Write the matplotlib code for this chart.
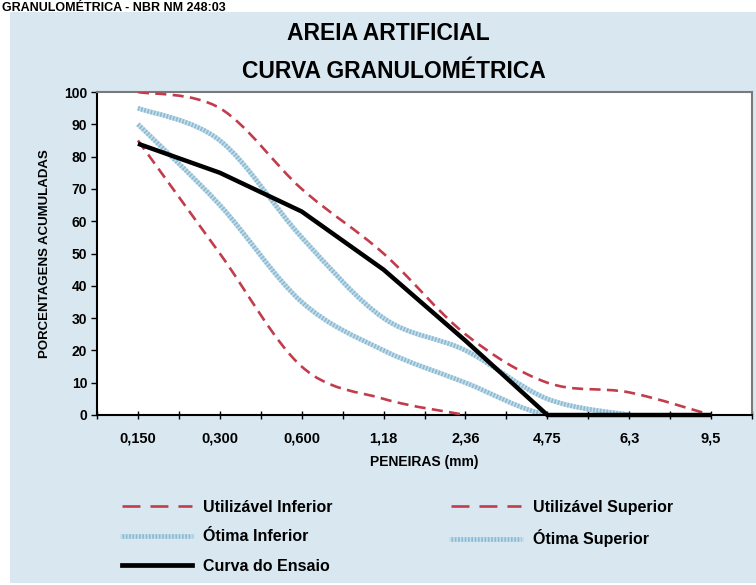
import numpy as np
import matplotlib
matplotlib.use("Agg")
import matplotlib.pyplot as plt
from matplotlib.path import Path
from matplotlib.patches import PathPatch, Rectangle
from matplotlib.lines import Line2D

plt.rcParams['font.family'] = ['Liberation Sans', 'DejaVu Sans']
plt.rcParams['font.weight'] = 'bold'

# ---- data ----
peneiras = ["0,150", "0,300", "0,600", "1,18", "2,36", "4,75", "6,3", "9,5"]
utilizavel_inferior = [85, 50, 15, 5, 0, np.nan, np.nan, np.nan]
utilizavel_superior = [100, 95, 70, 50, 25, 10, 7, 0]
otima_inferior = [90, 65, 35, 20, 10, 0, 0, np.nan]
otima_superior = [95, 85, 55, 30, 20, 5, 0, np.nan]
curva_ensaio = [84, 75, 63, 45, 23, 0, 0, 0]

W, H = 756, 585
fig = plt.figure(figsize=(W / 100, H / 100), dpi=100, facecolor="white")
bg = "#d8e7f0"
fig.patches.append(Rectangle((10 / W, 2 / H), 1, 1 - 14 / H, transform=fig.transFigure,
                             facecolor=bg, edgecolor="none", zorder=-10))

ax = fig.add_axes([97 / W, 1 - 415 / H, (752 - 97) / W, (415 - 92) / H])
ax.set_facecolor("white")

x = np.arange(len(peneiras))


def smooth_path(xs, ys):
    xs = np.asarray(xs, float)
    ys = np.asarray(ys, float)
    ok = ~np.isnan(ys)
    pts = np.column_stack([xs[ok], ys[ok]])
    n = len(pts)
    verts = [pts[0]]
    codes = [Path.MOVETO]
    for i in range(n - 1):
        p0 = pts[i - 1] if i > 0 else pts[i]
        p1 = pts[i]
        p2 = pts[i + 1]
        p3 = pts[i + 2] if i + 2 < n else pts[i + 1]
        c1 = p1 + (p2 - p0) / 6.0
        c2 = p2 - (p3 - p1) / 6.0
        verts += [c1, c2, p2]
        codes += [Path.CURVE4] * 3
    return Path(verts, codes)


red = "#c23c4c"
red_ls = (0, (4.2, 2.4))
red_leg_ls = (0, (6.8, 3.8))
red_lw = 1.9
blue_base = "#c4deeb"
blue_tex = "#8cbad2"
blue_lw = 3.4
blue_ls = (0, (0.35, 0.35))

for vals in (otima_inferior, otima_superior):
    p = smooth_path(x, vals)
    ax.add_patch(PathPatch(p, fill=False, edgecolor=blue_base, lw=blue_lw, zorder=2,
                           capstyle='butt'))
    ax.add_patch(PathPatch(p, fill=False, edgecolor=blue_tex, lw=blue_lw, zorder=2.1,
                           linestyle=blue_ls, capstyle='butt'))

for vals in (utilizavel_inferior, utilizavel_superior):
    p = smooth_path(x, vals)
    ax.add_patch(PathPatch(p, fill=False, edgecolor=red, lw=red_lw, linestyle=red_ls,
                           zorder=3, capstyle='butt'))

ax.plot(x, curva_ensaio, color="black", lw=3.2, zorder=4, solid_joinstyle='miter',
        solid_capstyle='butt', clip_on=False)

ax.set_xlim(-0.5, len(peneiras) - 0.5)
ax.set_ylim(0, 100)
ax.set_xticks(x)
ax.set_xticklabels(peneiras, fontsize=10.5, fontweight='bold')
ax.set_xticks(np.arange(-0.5, len(peneiras), 1.0), minor=True)
ax.tick_params(axis='x', which='both', direction='inout', length=6, width=1, pad=9)
ax.set_yticks(np.arange(0, 101, 10))
ax.tick_params(axis='y', direction='out', length=4, width=1, pad=3, labelsize=10)
for lab in ax.get_yticklabels():
    lab.set_fontweight('bold')

for s in ("left", "bottom"):
    ax.spines[s].set_color("black")
    ax.spines[s].set_linewidth(1.5)
for s in ("top", "right"):
    ax.spines[s].set_color("#7a7a7a")
    ax.spines[s].set_linewidth(1.5)

ax.set_ylabel("PORCENTAGENS ACUMULADAS", fontsize=9.5, fontweight='bold')
ax.yaxis.set_label_coords((51 - 97) / (752 - 97), 0.5)
ax.set_xlabel("PENEIRAS (mm)", fontsize=10, fontweight='bold')
ax.xaxis.set_label_coords(0.5, -(455 - 415) / (415 - 92))

fig.text(388 / W, 1 - 33 / H, "AREIA ARTIFICIAL", ha='center', va='center',
         fontsize=16.5, fontweight='bold')
fig.text(394 / W, 1 - 72 / H, "CURVA GRANULOMÉTRICA", ha='center', va='center',
         fontsize=16.5, fontweight='bold')
fig.text(2 / W, 1 - 11 / H, "GRANULOMÉTRICA - NBR NM 248:03", ha='left', va='baseline',
         fontsize=9, fontweight='bold')

# legend
h_ui = Line2D([], [], color=red, lw=red_lw, linestyle=red_leg_ls)
h_us = Line2D([], [], color=red, lw=red_lw, linestyle=red_leg_ls)
h_oi = (Line2D([], [], color=blue_base, lw=blue_lw),
        Line2D([], [], color=blue_tex, lw=blue_lw, linestyle=blue_ls))
h_os = (Line2D([], [], color=blue_base, lw=blue_lw),
        Line2D([], [], color=blue_tex, lw=blue_lw, linestyle=blue_ls))
h_ce = Line2D([], [], color="black", lw=3.4)
leg = fig.legend([h_ui, h_oi, h_ce, h_us, h_os],
                 ["Utilizável Inferior", "Ótima Inferior", "Curva do Ensaio",
                  "Utilizável Superior", "Ótima Superior"],
                 ncol=2, loc='upper left', bbox_to_anchor=(122 / W, 1 - 500 / H),
                 frameon=False, handlelength=4.4, handletextpad=0.7,
                 columnspacing=7.4, labelspacing=0.9, borderpad=0, borderaxespad=0,
                 prop={'weight': 'bold', 'size': 11.5})

fig.savefig("out.png", dpi=100, facecolor=fig.get_facecolor())
